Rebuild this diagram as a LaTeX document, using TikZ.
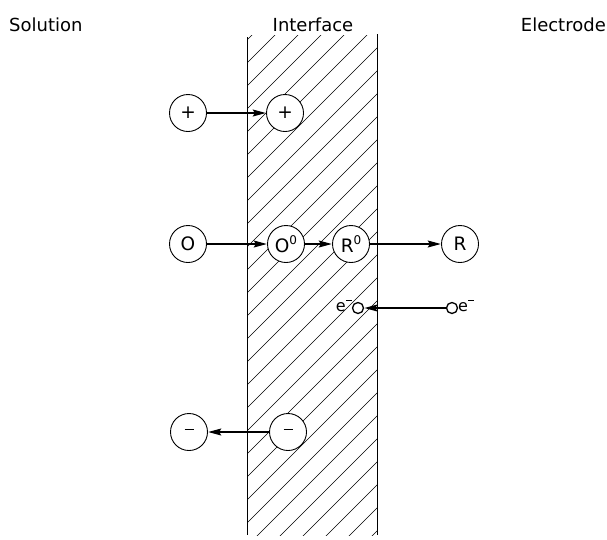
\documentclass[tikz,border=0pt]{standalone}
\usepackage{fontspec}
\setmainfont{DejaVu Sans}
\usetikzlibrary{arrows.meta}
\newcommand{\upto}[1]{\raisebox{0.45em}{\fontsize{12}{12}\selectfont #1}}
\newcommand{\minusbar}[1]{\rule[0.28em]{#1}{1.1pt}}
\begin{document}
\begin{tikzpicture}[x=1pt,y=-1pt,
  ion/.style={circle,draw,line width=0.9pt,fill=white,minimum size=37pt,inner sep=0pt,font=\fontsize{18.5}{18.5}\selectfont},
  elec/.style={circle,draw,line width=1.3pt,fill=white,minimum size=11pt,inner sep=0pt},
  lbl/.style={font=\fontsize{18}{18}\selectfont,inner sep=0pt},
  elbl/.style={font=\fontsize{16}{16}\selectfont,inner sep=0pt},
  arr/.style={line width=1.1pt,-{Stealth[length=13pt,width=7pt,inset=2pt]},shorten >=0.3pt},
  hatch/.style={line width=0.65pt}]
\useasboundingbox (0,0) rectangle (607,539);
% labels
\node[lbl,anchor=west] (sol) at (9,25) {Solution};
\node[lbl] (int) at (313,25) {Interface};
\node[lbl,anchor=east] (ele) at (606,25) {Electrode};
% interface band
\begin{scope}
\clip (247,35) rectangle (377,535);
\foreach \c in {40,63,...,700} {
  \draw[hatch] (247,\c) -- ++(500,-500);
}
\end{scope}
\draw[line width=0.8pt] (247,37) -- (247,535);
\draw[line width=0.8pt] (377,34) -- (377,535);
% ions
\node[ion] (pA) at (188,113) {+};
\node[ion] (pB) at (285,113) {+};
\node[ion] (O) at (188,244) {O};
\node[ion] (O0) at (286,244) {O\upto{0}};
\node[ion] (R0) at (351,244) {R\upto{0}};
\node[ion] (R) at (460,244) {R};
\node[elec] (eA) at (358,308) {};
\node[elec] (eB) at (452,308) {};
\node[ion] (mA) at (189,432) {\minusbar{9pt}};
\node[ion] (mB) at (288,432) {\minusbar{9pt}};
\node[elbl,anchor=south east] (leA) at (352,312) {e\upto{\minusbar{6pt}}};
\node[elbl,anchor=south west] (leB) at (458,312) {e\upto{\minusbar{6pt}}};
% arrows
\draw[arr] (pA) -- (pB);
\draw[arr] (O) -- (O0);
\draw[arr] (O0) -- (R0);
\draw[arr] (R0) -- (R);
\draw[arr] (eB) -- (eA);
\draw[arr] (mB) -- (mA);
\end{tikzpicture}
\end{document}
